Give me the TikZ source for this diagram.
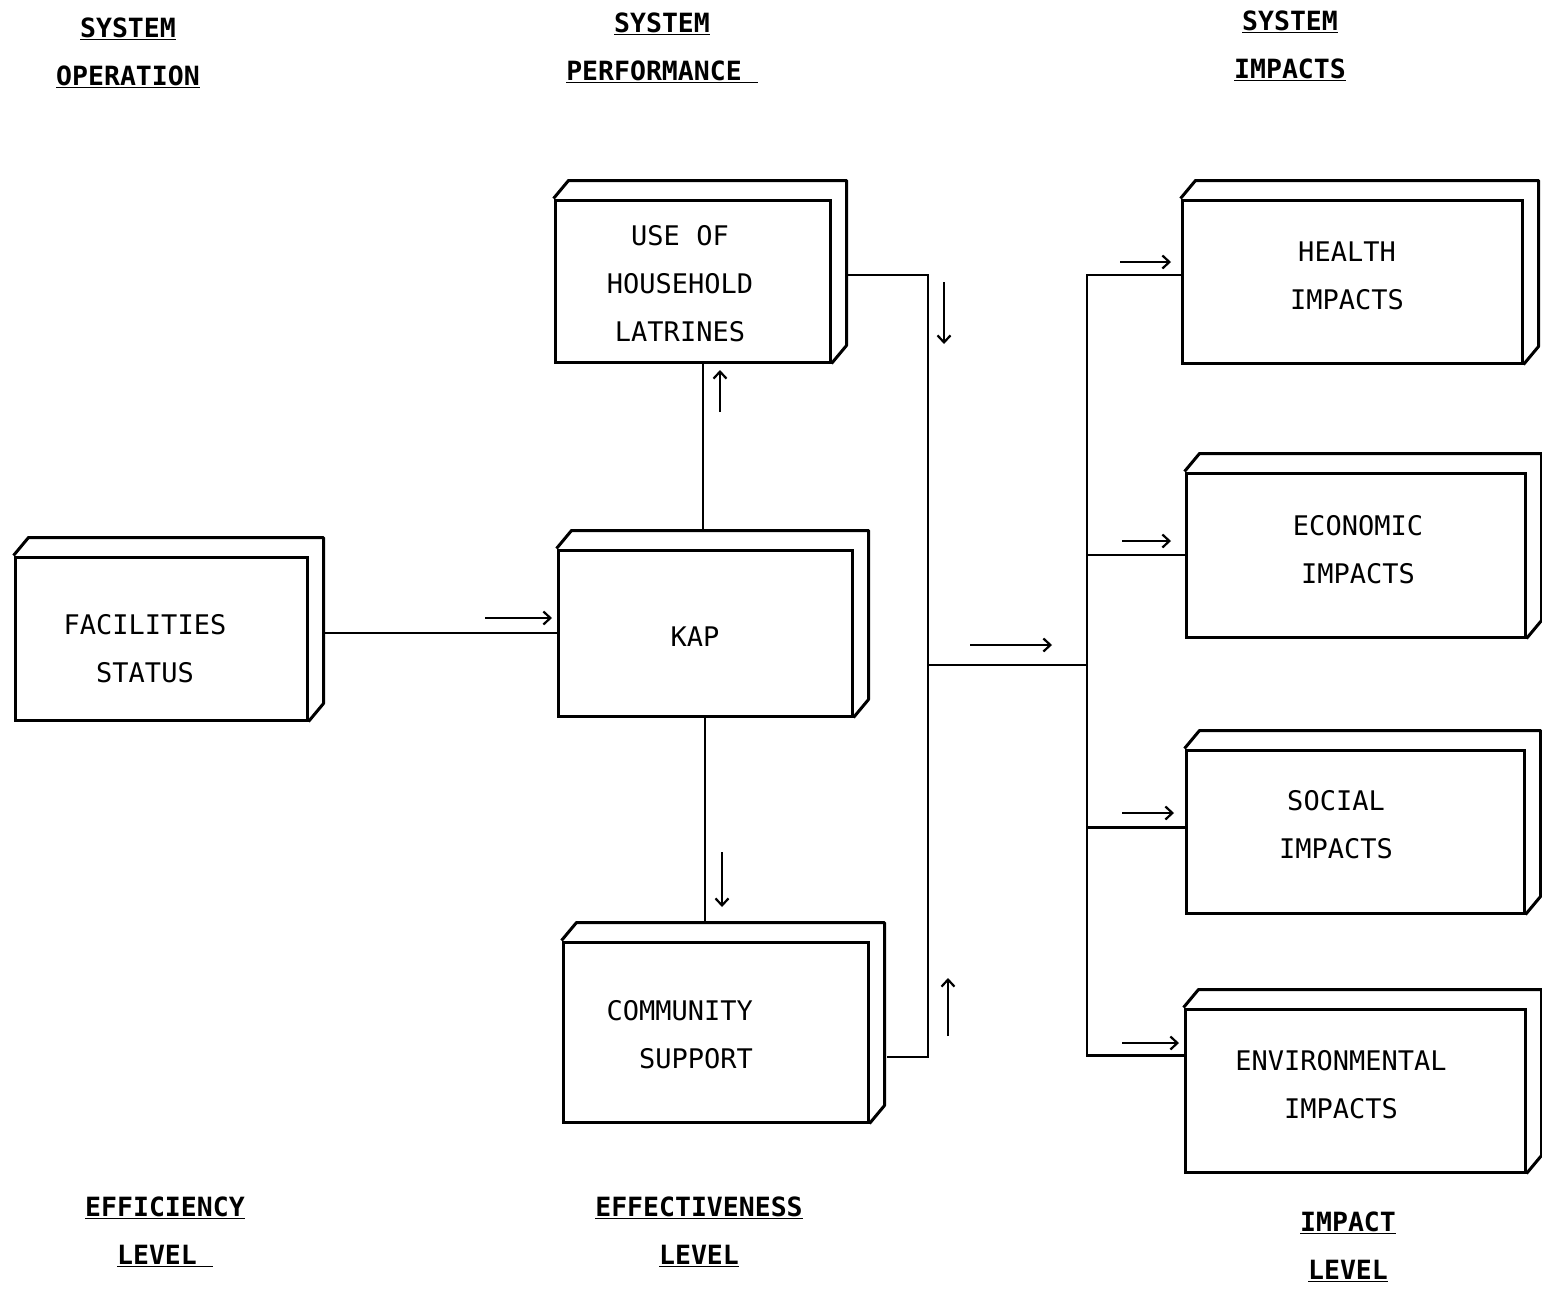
\documentclass[tikz,border=0pt]{standalone}
\usepackage{fontspec}
\setmonofont{DejaVu Sans Mono}
\usetikzlibrary{arrows.meta,calc}
\tikzset{
  front/.style={draw, line width=3pt, inner sep=0pt, fill=white},
  back/.style={line width=3pt, line join=round},
  conn/.style={line width=2.6pt},
  ind/.style={line width=2.2pt, -{Straight Barb[length=7pt,width=13pt,line width=2.2pt]}},
  lbl/.style={font=\ttfamily\fontsize{27}{48}\selectfont, align=center, inner sep=0pt},
  hdr/.style={font=\ttfamily\bfseries\fontsize{26.5}{48}\selectfont, align=center, inner sep=0pt}
}
\newcommand\backface[1]{\draw[back] (#1.north west) -- ++(15,-18) -| ($(#1.south east)+(15,-18)$) -- (#1.south east);}
\begin{document}
\begin{tikzpicture}[x=1pt,y=-1pt]
\useasboundingbox[fill=white] (0,0) rectangle (1542,1291);

% front faces
\node[front, minimum width=292pt, minimum height=163pt] (fac) at (161,638.5) {};
\node[front, minimum width=275pt, minimum height=162pt] (use) at (692.5,281) {};
\node[front, minimum width=294pt, minimum height=166pt] (kap) at (705,633) {};
\node[front, minimum width=305pt, minimum height=180pt] (com) at (715.5,1032) {};
\node[front, minimum width=340pt, minimum height=163pt] (hea) at (1352,281.5) {};
\node[front, minimum width=339pt, minimum height=164pt] (eco) at (1355.5,555) {};
\node[front, minimum width=338pt, minimum height=163pt] (soc) at (1355,831.5) {};
\node[front, minimum width=340pt, minimum height=163pt] (env) at (1355,1090.5) {};

\foreach \b in {fac,use,kap,com,hea,eco,soc,env} {\backface{\b}}

% box labels
\node[lbl] (tfac) at (145,649) {FACILITIES\\STATUS};
\node[lbl] (tuse) at (680,284) {USE OF\\HOUSEHOLD\\LATRINES};
\node[lbl] (tkap) at (695,637) {KAP};
\node[lbl, align=right, anchor=east] (tcom) at (753,1035) {COMMUNITY\\SUPPORT};
\node[lbl] (thea) at (1347,276) {HEALTH\\IMPACTS};
\node[lbl] (teco) at (1358,550) {ECONOMIC\\IMPACTS};
\node[lbl] (tsoc) at (1336,825) {SOCIAL\\IMPACTS};
\node[lbl] (tenv) at (1341,1085) {ENVIRONMENTAL\\IMPACTS};

% headers
\node[hdr] (h1) at (128,53) {\underline{SYSTEM}\\\underline{OPERATION}};
\node[hdr] (h2) at (662,48) {\underline{SYSTEM}\\\underline{PERFORMANCE\ }};
\node[hdr] (h3) at (1290,46) {\underline{SYSTEM}\\\underline{IMPACTS}};
\node[hdr] (f1) at (165,1232) {\underline{EFFICIENCY}\\\underline{LEVEL\ }};
\node[hdr] (f2) at (699,1232) {\underline{EFFECTIVENESS}\\\underline{LEVEL}};
\node[hdr] (f3) at (1348,1247) {\underline{IMPACT}\\\underline{LEVEL}};

% connectors
\coordinate (busA) at (928,665);
\coordinate (busB) at (1087,665);
\draw[conn] ([xshift=15pt]fac.east |- kap.west) -- (kap.west);
\draw[conn] ([xshift=-2pt,yshift=18pt]kap.north) -- ([xshift=-2pt]kap.north |- use.south);
\draw[conn] (kap.south) -- ([yshift=18pt]kap.south |- com.north);
\draw[conn] ($(use.east)+(15,-6)$) -| (busA) |- ($(com.east)+(17,25)$);
\draw[conn] (busA) -- (busB);
\draw[conn] ([yshift=6.5pt]hea.west) -| (busB) |- ([yshift=35pt]env.west);
\draw[conn] (eco.west -| busB) -- (eco.west);
\draw[conn] ([yshift=4pt]soc.west -| busB) -- ([yshift=4pt]soc.west);

% direction indicators
\coordinate (a1s) at (485,618);  \coordinate (a1e) at (552,618);
\coordinate (a2s) at (720,412);  \coordinate (a2e) at (720,370);
\coordinate (a3s) at (722,852);  \coordinate (a3e) at (722,907);
\coordinate (a4s) at (944,282);  \coordinate (a4e) at (944,344);
\coordinate (a5s) at (948,1036); \coordinate (a5e) at (948,978);
\coordinate (a6s) at (970,645);  \coordinate (a6e) at (1052,645);
\coordinate (a7s) at (1120,262); \coordinate (a7e) at (1171,262);
\coordinate (a8s) at (1122,541); \coordinate (a8e) at (1171,541);
\coordinate (a9s) at (1122,813); \coordinate (a9e) at (1174,813);
\coordinate (a10s) at (1122,1043); \coordinate (a10e) at (1179,1043);
\foreach \i in {1,...,10} {\draw[ind] (a\i s) -- (a\i e);}
\end{tikzpicture}
\end{document}
